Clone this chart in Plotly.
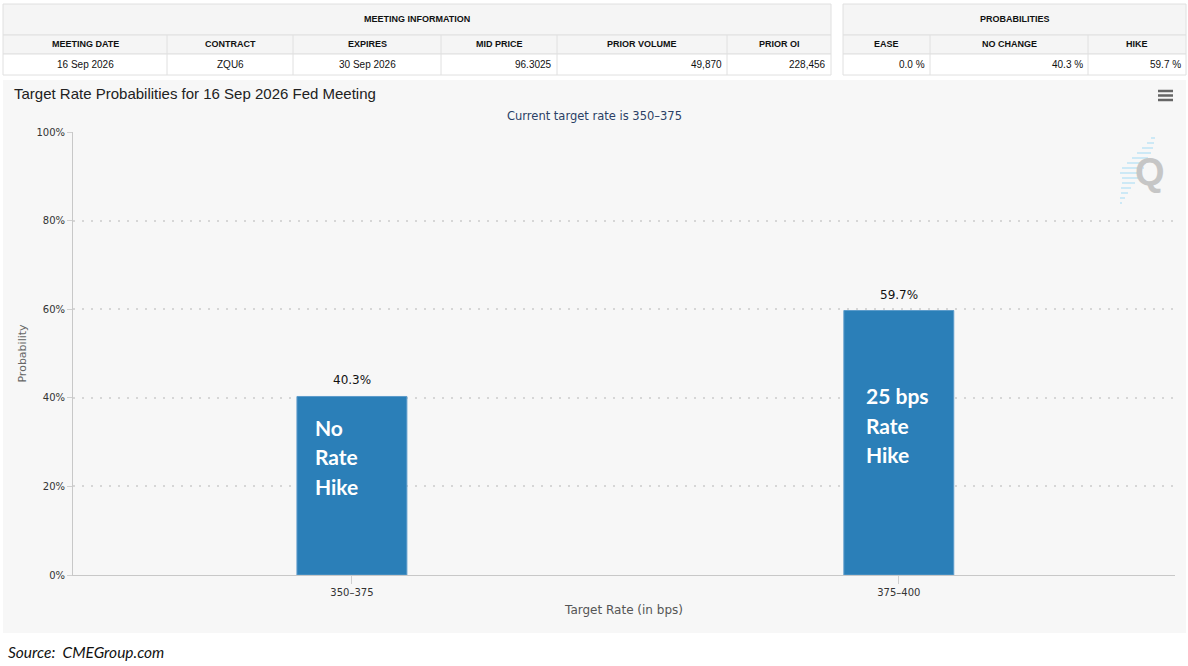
import plotly.graph_objects as go

W, H = 1188, 666
ML, MR, MT, MB = 73, 13, 132, 91
PW, PH = W - ML - MR, H - MT - MB

# ---------------- data ----------------
categories = ["350\u2013375", "375\u2013400"]
probabilities = [40.3, 59.7]
value_labels = ["40.3%", "59.7%"]
inside_labels = [["No", "Rate", "Hike"], ["25 bps", "Rate", "Hike"]]

y_ticks = [0, 20, 40, 60, 80, 100]
y_tick_labels = ["0%", "20%", "40%", "60%", "80%", "100%"]

meeting_headers = ["MEETING DATE", "CONTRACT", "EXPIRES", "MID PRICE", "PRIOR VOLUME", "PRIOR OI"]
meeting_values = ["16 Sep 2026", "ZQU6", "30 Sep 2026", "96.3025", "49,870", "228,456"]
prob_headers = ["EASE", "NO CHANGE", "HIKE"]
prob_values = ["0.0 %", "40.3 %", "59.7 %"]

title_text = "Target Rate Probabilities for 16 Sep 2026 Fed Meeting"
subtitle_text = "Current target rate is 350\u2013375"
source_text = "Source:  CMEGroup.com"

# ---------------- helpers (pixel -> paper, paper = plot area) ----------------
def X(px):
    return (px - ML) / PW

def Y(py):
    return (H - MB - py) / PH

shapes = []
annotations = []

def rect(x0, y0, x1, y1, fill, line="#e0e0e0", lw=1, layer="below"):
    shapes.append(dict(type="rect", xref="paper", yref="paper",
                       x0=X(x0), x1=X(x1), y0=Y(y0), y1=Y(y1),
                       fillcolor=fill, line=dict(color=line, width=lw), layer=layer))

def line(x0, y0, x1, y1, color, w=1, layer="below"):
    shapes.append(dict(type="line", xref="paper", yref="paper",
                       x0=X(x0), x1=X(x1), y0=Y(y0), y1=Y(y1),
                       line=dict(color=color, width=w), layer=layer))

def text(x, y, s, size=10, color="#111", family="Liberation Sans, Arial", xanchor="center", bold=False, **kw):
    if bold:
        s = "<b>" + s + "</b>"
    annotations.append(dict(xref="paper", yref="paper", x=X(x), y=Y(y), text=s,
                            showarrow=False, xanchor=xanchor, yanchor="middle",
                            font=dict(size=size, color=color, family=family), **kw))

# ---------------- tables ----------------
BORDER = "#e0e0e0"
HEAD_BG = "#f5f5f5"
row_y = [4, 35, 54, 75]

def draw_table(x_edges, title, headers, values, align):
    x0, x1 = x_edges[0], x_edges[-1]
    rect(x0, row_y[0], x1, row_y[1], HEAD_BG, BORDER)
    rect(x0, row_y[1], x1, row_y[2], HEAD_BG, BORDER)
    rect(x0, row_y[2], x1, row_y[3], "#ffffff", BORDER)
    for xe in x_edges[1:-1]:
        line(xe, row_y[1], xe, row_y[3], BORDER)
    text((x0 + x1) / 2, (row_y[0] + row_y[1]) / 2 - 0.5, title, size=9, bold=True)
    for i, (h, v) in enumerate(zip(headers, values)):
        a, b = x_edges[i], x_edges[i + 1]
        text((a + b) / 2, (row_y[1] + row_y[2]) / 2, h, size=9, bold=True)
        if align[i] == "right":
            text(b - 3, (row_y[2] + row_y[3]) / 2, v, size=10, xanchor="right")
        else:
            text((a + b) / 2, (row_y[2] + row_y[3]) / 2, v, size=10)

draw_table([3, 167, 293, 441, 557, 727, 831], "MEETING INFORMATION",
           meeting_headers, meeting_values,
           ["center", "center", "center", "right", "right", "right"])
draw_table([843, 930, 1088, 1186], "PROBABILITIES",
           prob_headers, prob_values, ["right", "right", "right"])

# ---------------- chart panel ----------------
rect(3, 80, 1186, 633, "#f7f7f7", line="#f7f7f7", lw=0)
text(12, 93, title_text, size=15, color="#222", xanchor="left")
text(594, 116, subtitle_text, size=11.5, color="#2b3f66", family="DejaVu Sans")

# hamburger icon
for yy in (91, 95.5, 100):
    line(1158, yy, 1173, yy, "#666666", w=2.5, layer="above")

# Q logo stripes
stripe_rows = [(138, 1151, 1155), (143, 1147, 1154), (148, 1142, 1153), (153, 1137, 1151),
               (158, 1132, 1148), (163, 1127, 1146), (168, 1122, 1144), (173, 1120, 1141),
               (178, 1122, 1138), (183, 1122, 1135), (188, 1121, 1131), (193, 1121, 1128),
               (198, 1120, 1125), (203, 1120, 1122)]
for yy, xa, xb in stripe_rows:
    line(xa, yy, xb, yy, "#cde9f6", w=2)
text(1150, 172, "Q", size=38, color="#c6c6c6", bold=True, family="Liberation Sans, Arial")

# source
annotations.append(dict(xref="paper", yref="paper", x=X(6), y=Y(652), text="<i>" + source_text + "</i>",
                        showarrow=False, xanchor="left", yanchor="middle",
                        font=dict(size=15.5, color="#111", family="Lato, Open Sans")))

# bar value labels and inside labels
for cat, val, lab in zip(categories, probabilities, value_labels):
    annotations.append(dict(xref="x", yref="y", x=cat, y=val, text=lab, showarrow=False,
                            xanchor="center", yanchor="bottom", yshift=7,
                            font=dict(size=12, color="#111", family="DejaVu Sans")))
first_line_offset = [31, 85]
label_xshift = [-39, -35]
for k, (cat, val, lines) in enumerate(zip(categories, probabilities, inside_labels)):
    for j, s in enumerate(lines):
        annotations.append(dict(xref="x", yref="y", x=cat, y=val, text="<b>" + s + "</b>",
                                showarrow=False, xanchor="left", yanchor="middle",
                                xshift=label_xshift[k],
                                yshift=-(first_line_offset[k] + 29.5 * j),
                                font=dict(size=21, color="#ffffff", family="Lato, Open Sans")))

fig = go.Figure(go.Bar(
    x=categories, y=probabilities, width=0.201,
    marker=dict(color="#2b7fb8", line=dict(color="#5d9ccb", width=1)),
    hoverinfo="skip",
))

fig.update_layout(
    width=W, height=H,
    margin=dict(l=ML, r=MR, t=MT, b=MB),
    paper_bgcolor="#ffffff",
    plot_bgcolor="rgba(0,0,0,0)",
    showlegend=False,
    shapes=shapes,
    annotations=annotations,
    xaxis=dict(
        type="category",
        range=[-0.51, 1.505],
        showgrid=False,
        showline=True, linecolor="#c8c8c8", linewidth=1,
        ticks="outside", ticklen=8, tickcolor="#d0d0d0",
        tickfont=dict(size=10, color="#333", family="DejaVu Sans"),
        title=dict(text="Target Rate (in bps)", font=dict(size=12, color="#555", family="DejaVu Sans"),
                   standoff=8),
        fixedrange=True,
    ),
    yaxis=dict(
        range=[0, 100],
        tickvals=y_ticks, ticktext=y_tick_labels,
        showgrid=True, gridcolor="#d6d6d6", griddash="2px,7px", gridwidth=1.5,
        zeroline=False,
        showline=True, linecolor="#c8c8c8", linewidth=1,
        ticks="outside", ticklen=5, tickcolor="#d0d0d0",
        tickfont=dict(size=10, color="#333", family="DejaVu Sans"),
        title=dict(text="Probability", font=dict(size=11, color="#666", family="DejaVu Sans"),
                   standoff=7),
        fixedrange=True,
    ),
    font=dict(family="DejaVu Sans"),
)

fig.write_html("out.html", config={"displayModeBar": False},
               post_script="document.body.style.margin='0px';document.body.style.overflow='hidden';")
